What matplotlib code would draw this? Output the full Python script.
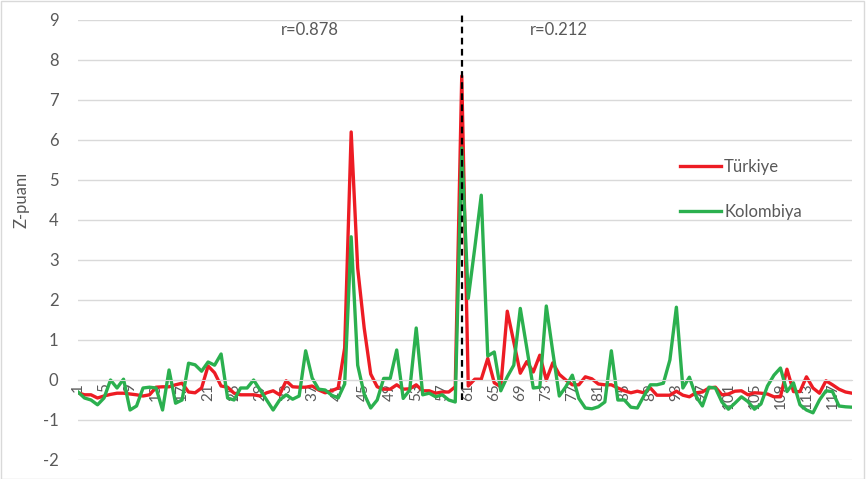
import numpy as np
import matplotlib.pyplot as plt
from matplotlib.patches import Rectangle
from matplotlib.lines import Line2D

plt.rcParams['font.family'] = ['Lato', 'DejaVu Sans']
plt.rcParams['axes.unicode_minus'] = False

## data (z-scores, 120 points)
turkiye = [-0.32, -0.37, -0.37, -0.45, -0.40, -0.36, -0.33, -0.33, -0.35, -0.37,
           -0.40, -0.37, -0.18, -0.17, -0.17, -0.12, -0.08, -0.30, -0.32, -0.20,
           0.35, 0.18, -0.15, -0.18, -0.33, -0.37, -0.37, -0.37, -0.40, -0.32,
           -0.27, -0.37, -0.02, -0.17, -0.18, -0.18, -0.15, -0.25, -0.32, -0.27,
           -0.20, 0.80, 6.20, 2.80, 1.30, 0.15, -0.17, -0.23, -0.23, -0.12,
           -0.23, -0.22, -0.12, -0.27, -0.27, -0.33, -0.30, -0.30, -0.17, 7.60,
           -0.15, 0.02, 0.02, 0.54, -0.07, -0.17, 1.72, 0.95, 0.17, 0.46,
           0.20, 0.62, 0.00, 0.43, 0.14, 0.00, -0.12, -0.12, 0.08, 0.03,
           -0.10, -0.12, -0.12, -0.20, -0.27, -0.32, -0.28, -0.32, -0.20, -0.38,
           -0.38, -0.38, -0.28, -0.38, -0.42, -0.32, -0.30, -0.20, -0.18, -0.37,
           -0.35, -0.28, -0.27, -0.37, -0.32, -0.33, -0.35, -0.42, -0.42, 0.27,
           -0.29, -0.29, 0.08, -0.20, -0.33, -0.02, -0.12, -0.23, -0.30, -0.33]
kolombiya = [-0.30, -0.45, -0.50, -0.62, -0.45, 0.00, -0.20, 0.02, -0.75, -0.65,
             -0.20, -0.18, -0.20, -0.75, 0.25, -0.58, -0.50, 0.42, 0.38, 0.22,
             0.45, 0.37, 0.65, -0.45, -0.50, -0.20, -0.20, 0.00, -0.25, -0.50,
             -0.75, -0.50, -0.37, -0.48, -0.40, 0.73, 0.05, -0.23, -0.25, -0.38,
             -0.45, -0.10, 3.58, 0.37, -0.35, -0.70, -0.50, 0.04, 0.04, 0.75,
             -0.46, -0.25, 1.30, -0.37, -0.33, -0.42, -0.37, -0.50, -0.55, 5.80,
             2.04, 3.30, 4.62, 0.60, 0.70, -0.27, 0.08, 0.37, 1.79, 0.80,
             -0.20, -0.18, 1.85, 0.70, -0.40, -0.17, 0.12, -0.46, -0.70, -0.72,
             -0.67, -0.55, 0.73, -0.50, -0.50, -0.68, -0.70, -0.40, -0.12, -0.12,
             -0.08, 0.50, 1.82, -0.20, 0.07, -0.40, -0.65, -0.18, -0.20, -0.55,
             -0.73, -0.58, -0.42, -0.54, -0.73, -0.60, -0.15, 0.12, 0.30, -0.29,
             -0.07, -0.62, -0.75, -0.82, -0.50, -0.27, -0.29, -0.65, -0.67, -0.68]
x = np.arange(1, len(turkiye) + 1)
tick_pos = np.arange(1, 120, 4)
split_at = 60
r_labels = ['r=0.878', 'r=0.212']

grey = '#595959'
red = '#ED1C24'
green = '#2BB04F'

fig = plt.figure(figsize=(8.66, 4.79), dpi=100)
ax = fig.add_axes([78 / 866, 1 - 460 / 479, (852 - 78) / 866, 440 / 479])

ax.plot(x, turkiye, color=red, lw=2.4, solid_joinstyle='round')
ax.plot(x, kolombiya, color=green, lw=2.4, solid_joinstyle='round')
ax.plot([split_at, split_at], [-0.5, 9.12], color='black', lw=1.6,
        ls=(0, (3, 2)), clip_on=False, zorder=5)

ax.set_xlim(1, len(x))
ax.set_ylim(-2, 9)
ax.set_yticks(np.arange(-2, 10, 1))
ax.grid(axis='y', color='#D9D9D9', lw=1)
ax.set_axisbelow(True)
for s in ['left', 'right', 'top']:
    ax.spines[s].set_visible(False)
ax.spines['bottom'].set_position(('data', 0))
ax.spines['bottom'].set_color('#D9D9D9')
ax.set_xticks(tick_pos)
ax.set_xticklabels([str(t) for t in tick_pos], rotation=90, va='top')
ax.tick_params(axis='x', length=0, pad=2, labelsize=11, labelcolor=grey)
ax.tick_params(axis='y', length=0, pad=14, labelsize=12, labelcolor=grey)

ax.text(36.7, 8.75, r_labels[0], ha='center', va='center', fontsize=12, color=grey)
ax.text(75, 8.75, r_labels[1], ha='center', va='center', fontsize=12, color=grey)

fig.text(22 / 866, 1 - 200 / 479, 'Z-puanı', rotation=90, ha='center', va='center',
         fontsize=12, color=grey)

handles = [Line2D([], [], color=red, lw=2.4), Line2D([], [], color=green, lw=2.4)]
ax.legend(handles, ['Türkiye', 'Kolombiya'], frameon=False, loc='upper left',
          bbox_to_anchor=(587 / 774, 1 - 124 / 440), labelspacing=1.72,
          handlelength=2.45, handletextpad=0.2, fontsize=12, labelcolor=grey)

fig.patches.append(Rectangle((0.001, 0.001), 0.997, 0.997, transform=fig.transFigure,
                             fill=False, edgecolor='#D9D9D9', lw=1))

fig.savefig('out.png', dpi=100)
